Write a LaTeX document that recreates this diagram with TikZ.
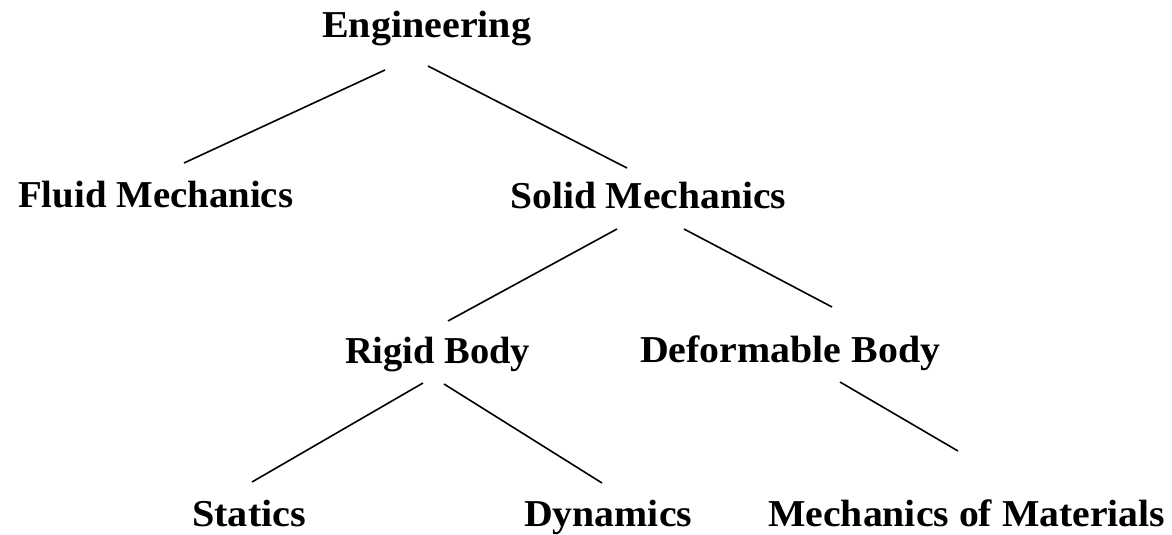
\documentclass[tikz,border=0pt]{standalone}
\usepackage{fontspec}
\usepackage{graphicx}
\newfontfamily\lab{Liberation Serif}
\tikzset{
  term/.style={anchor=base west, inner sep=0pt, font=\lab\bfseries\fontsize{38}{41}\selectfont},
  branch/.style={line width=1.6pt, black},
}
% set a label at a fixed width, keeping its natural height
\newcommand{\wlab}[2]{\resizebox{#1pt}{\height}{#2}}
\begin{document}
\begin{tikzpicture}[x=1pt, y=-1pt]
  \useasboundingbox (0,0) rectangle (1172,535);

  \node[term] (eng)   at (322,38)  {\wlab{209}{Engineering}};
  \node[term] (fluid) at (18,207)  {\wlab{275}{Fluid Mechanics}};
  \node[term] (solid) at (510,208) {\wlab{276}{Solid Mechanics}};
  \node[term] (rigid) at (345,363) {\wlab{185}{Rigid Body}};
  \node[term] (deform) at (640,362) {\wlab{300}{Deformable Body}};
  \node[term] (stat)  at (192,526) {\wlab{114}{Statics}};
  \node[term] (dyn)   at (524,526) {\wlab{168}{Dynamics}};
  \node[term] (mom)   at (768,526) {\wlab{397}{Mechanics of Materials}};

  % branch ends
  \coordinate (e1) at (385,70);  \coordinate (f1) at (184,163);
  \coordinate (e2) at (428,66);  \coordinate (s1) at (627,168);
  \coordinate (s2) at (617,229); \coordinate (r1) at (448,321);
  \coordinate (s3) at (684,229); \coordinate (d1) at (832,307);
  \coordinate (r2) at (423,383); \coordinate (t1) at (252,482);
  \coordinate (r3) at (444,384); \coordinate (y1) at (602,483);
  \coordinate (d2) at (840,382); \coordinate (m1) at (958,451);

  \draw[branch] (e1) -- (f1);
  \draw[branch] (e2) -- (s1);
  \draw[branch] (s2) -- (r1);
  \draw[branch] (s3) -- (d1);
  \draw[branch] (r2) -- (t1);
  \draw[branch] (r3) -- (y1);
  \draw[branch] (d2) -- (m1);
\end{tikzpicture}
\end{document}
